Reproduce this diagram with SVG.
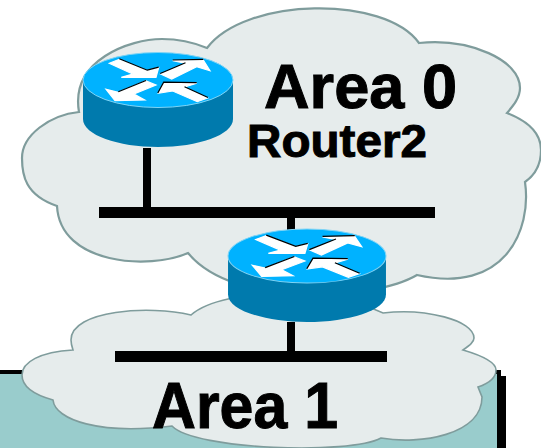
<svg xmlns="http://www.w3.org/2000/svg" xmlns:xlink="http://www.w3.org/1999/xlink" width="541" height="448" viewBox="0 0 541 448">
<style>
.cloud{fill:#E6ECEC;stroke:#7F9C9C}
.wire{fill:#000}
.lbl{font-family:"Liberation Sans",Arial,sans-serif;font-weight:700;fill:#000;stroke:#000;stroke-width:1}
.side{fill:#007AAD}
.top{fill:#00B2FF;stroke:#7FD4F5;stroke-width:1}
.arw{fill:#fff;stroke:#fff;stroke-width:1.2}
.edge{fill:none;stroke:#000;stroke-width:1.2}
</style>
<defs>
<g id="router">
<path class="side" d="M-75,0 V39 C-75,55 -40,67 0,67 C40,67 75,55 75,39 V0 Z"/>
<ellipse class="top" cx="0" cy="0" rx="75" ry="27.5"/>
<path class="arw" d="M-48.7,-16.7 L-38.7,-20.7 L-10.7,-9.3 L.7,-12.3 L-2,-2.7 L-36.7,-2.7 L-25.3,-6 Z"/>
<path class="arw" d="M2.7,-6 L28,-16.7 L14.7,-19.3 L45.3,-20 L52,-9.3 L38.7,-13.3 L13.7,-1 Z"/>
<path class="arw" d="M-39.7,12.3 L-12,1 L-2,5 L-24,14 L-13.3,20 L-43,20.7 L-52,9.3 Z"/>
<path class="arw" d="M.3,13.3 L6,2.7 L38.7,3.3 L26,7.3 L49.7,18 L39.3,21.7 L14.7,11 Z"/>
<path class="edge" d="M-38.7,-21.2 L-10.7,-9.8 L.7,-12.8 M2.2,-6.5 L27.5,-17.2 M14.7,-20 L45.3,-20.7 M-39.7,11.8 L-12,.5 M-.2,13 L5.7,2.2 L38.7,2.7 M26.5,6.8 L50,17.5"/>
</g>
</defs>
<rect width="541" height="448" fill="#fff"/>
<g id="backdrop">
<rect x="0" y="374" width="497" height="74" fill="#99CCCC"/>
<rect x="0" y="370" width="501" height="4" fill="#000"/>
<rect x="497" y="370" width="4" height="78" fill="#000"/>
<rect x="501" y="376" width="5" height="72" fill="#000"/>
</g>
<g id="area0">
<path class="cloud" stroke-width="2.2" d="M207,48 C245,-3 385,-5 419,43 C470,38 520,60 520,88 C520,98 513,106 507,113 C530,122 541,135 541,150 C541,165 535,175 525,182 C532,230 505,295 417,275 C375,300 235,310 188,253 C150,270 60,265 57,206 C25,195 22,175 22,158 C22,135 50,115 79,112 C70,60 130,39 162,39 C180,39 195,43 207,48 Z"/>
<text class="lbl" x="264" y="108" font-size="63" textLength="193" lengthAdjust="spacingAndGlyphs">Area 0</text>
<text class="lbl" x="247" y="157" font-size="47" textLength="180" lengthAdjust="spacingAndGlyphs">Router2</text>
</g>
<g id="area1">
<path class="cloud" stroke-width="1.6" d="M191,315 C150,305 71,310 71,340 C71,343 72,347 73,350 C40,352 22,362 22,375 C22,388 35,395 53,400 C55,420 100,435 172,426 C195,450 350,455 381,438 C420,445 482,435 482,397 L478,387 C490,383 496,378 496,370 C496,362 480,355 463,350 C470,345 474,342 474,338 C474,320 425,308 383,313 L376,310 C340,290 225,285 191,315 Z"/>
<text class="lbl" x="152" y="428" font-size="65" textLength="186" lengthAdjust="spacingAndGlyphs">Area 1</text>
</g>
<g id="connectors">
<rect class="wire" x="143" y="148" width="8" height="60"/>
<rect class="wire" x="99" y="207" width="336" height="11"/>
<rect class="wire" x="287" y="218" width="8" height="12"/>
<rect class="wire" x="287" y="322" width="8" height="30"/>
<rect class="wire" x="115" y="351" width="272" height="11"/>
</g>
<g id="router1"><use xlink:href="#router" href="#router" transform="translate(158,80)"/></g>
<g id="router2"><use xlink:href="#router" href="#router" transform="translate(307,256) scale(1.053,0.985)"/></g>
</svg>
